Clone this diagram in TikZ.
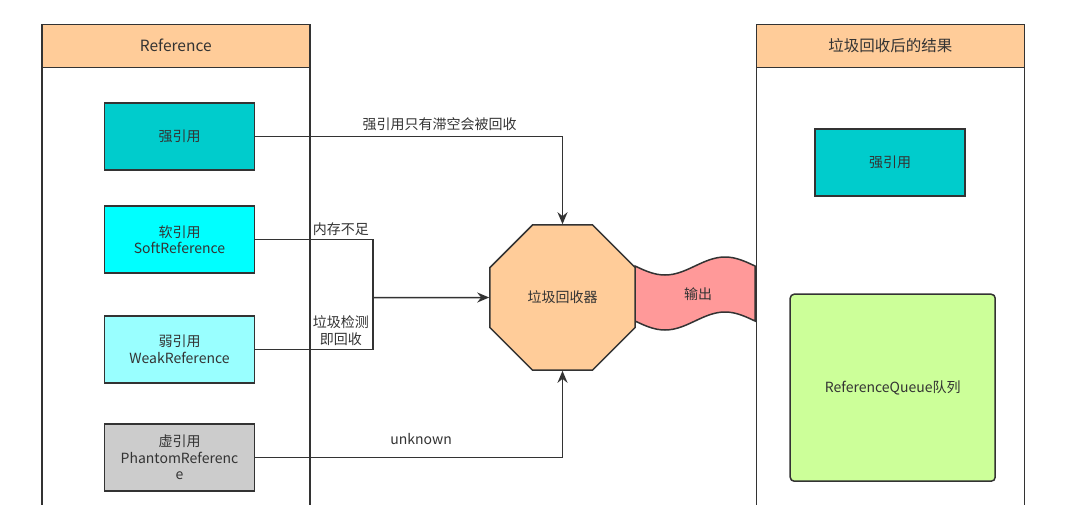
\documentclass[tikz,border=0pt]{standalone}
\usepackage{fontspec}
\setmainfont{Noto Sans CJK SC}
\usetikzlibrary{shapes.geometric,arrows.meta,positioning}
\definecolor{linegray}{HTML}{333333}
\definecolor{headpeach}{HTML}{FFCC99}
\definecolor{strongteal}{HTML}{00CCCC}
\definecolor{softcyan}{HTML}{00FFFF}
\definecolor{weakcyan}{HTML}{99FFFF}
\definecolor{phantomgray}{HTML}{CCCCCC}
\definecolor{outred}{HTML}{FF9999}
\definecolor{queuegreen}{HTML}{CCFF99}

\begin{document}
\begin{tikzpicture}[x=1pt, y=-1pt,
    every node/.style={text=linegray, font=\fontsize{14}{16.5}\selectfont},
    panel/.style={rectangle, draw=linegray, line width=1.5pt, fill=white, minimum width=268pt, minimum height=520pt, anchor=north west},
    header/.style={rectangle, draw=linegray, line width=1.5pt, fill=headpeach, minimum width=268pt, minimum height=43pt, anchor=north west, font=\fontsize{15.5}{19}\selectfont},
    refbox/.style={rectangle, draw=linegray, line width=1.5pt, minimum width=150pt, minimum height=67pt, align=center, inner sep=0pt},
    collector/.style={regular polygon, regular polygon sides=8, draw=linegray, line width=1.5pt, fill=headpeach, minimum size=157pt, inner sep=0pt},
    conn/.style={draw=linegray, line width=1.5pt, -{Stealth[length=12pt, width=10pt]}},
    plain/.style={draw=linegray, line width=1.5pt}
]
\clip (0,0) rectangle (1069,504);
\fill[white] (0,0) rectangle (1069,504);

% Panels
\node[panel] (leftpanel) at (41,23.5) {};
\node[header] (lefthead) at (41,23.5) {Reference};
\node[panel] (rightpanel) at (755.5,23.5) {};
\node[header] (righthead) at (755.5,23.5) {垃圾回收后的结果};

% References
\node[refbox, fill=strongteal] (strongref) at (179.5,136.7) {强引用};
\node[refbox, fill=softcyan] (softref) at (179.5,239.7) {软引用\\SoftReference};
\node[refbox, fill=weakcyan] (weakref) at (179.5,349.3) {弱引用\\WeakReference};
\node[refbox, fill=phantomgray] (phantomref) at (179.5,457.3) {虚引用\\PhantomReferenc\\e};

% Output band
\draw[plain, fill=outred] (635,266) sin (665,275) cos (695,266) sin (725,257) cos (755,266)
    -- (755,321) sin (725,312) cos (695,321) sin (665,330) cos (635,321) -- cycle;
\node (outlabel) at (698,294) {输出};

% Collector
\node[collector] (gc) at (562.5,297.5) {垃圾回收器};

% Results
\node[refbox, fill=strongteal] (keptstrong) at (890,162.3) {强引用};
\node[refbox, fill=queuegreen, rounded corners=4pt, minimum width=205pt, minimum height=187pt] (refqueue) at (892.7,387.7) {ReferenceQueue队列};

% Edges
\coordinate (joint) at (373,297.5);
\draw[conn] (strongref.east) -| (gc.north) node[pos=0.3, above=2pt] {强引用只有滞空会被回收};
\draw[plain] (softref.east) -| (joint) node[pos=0.5, above left] {内存不足};
\draw[plain] (weakref.east) -| (joint) node[pos=0.5, above left, align=center] {垃圾检测\\即回收};
\draw[conn] (joint) -- (gc.west);
\draw[conn] (phantomref.east) -| (gc.south) node[pos=0.27, above=9pt] {unknown};

\end{tikzpicture}
\end{document}
